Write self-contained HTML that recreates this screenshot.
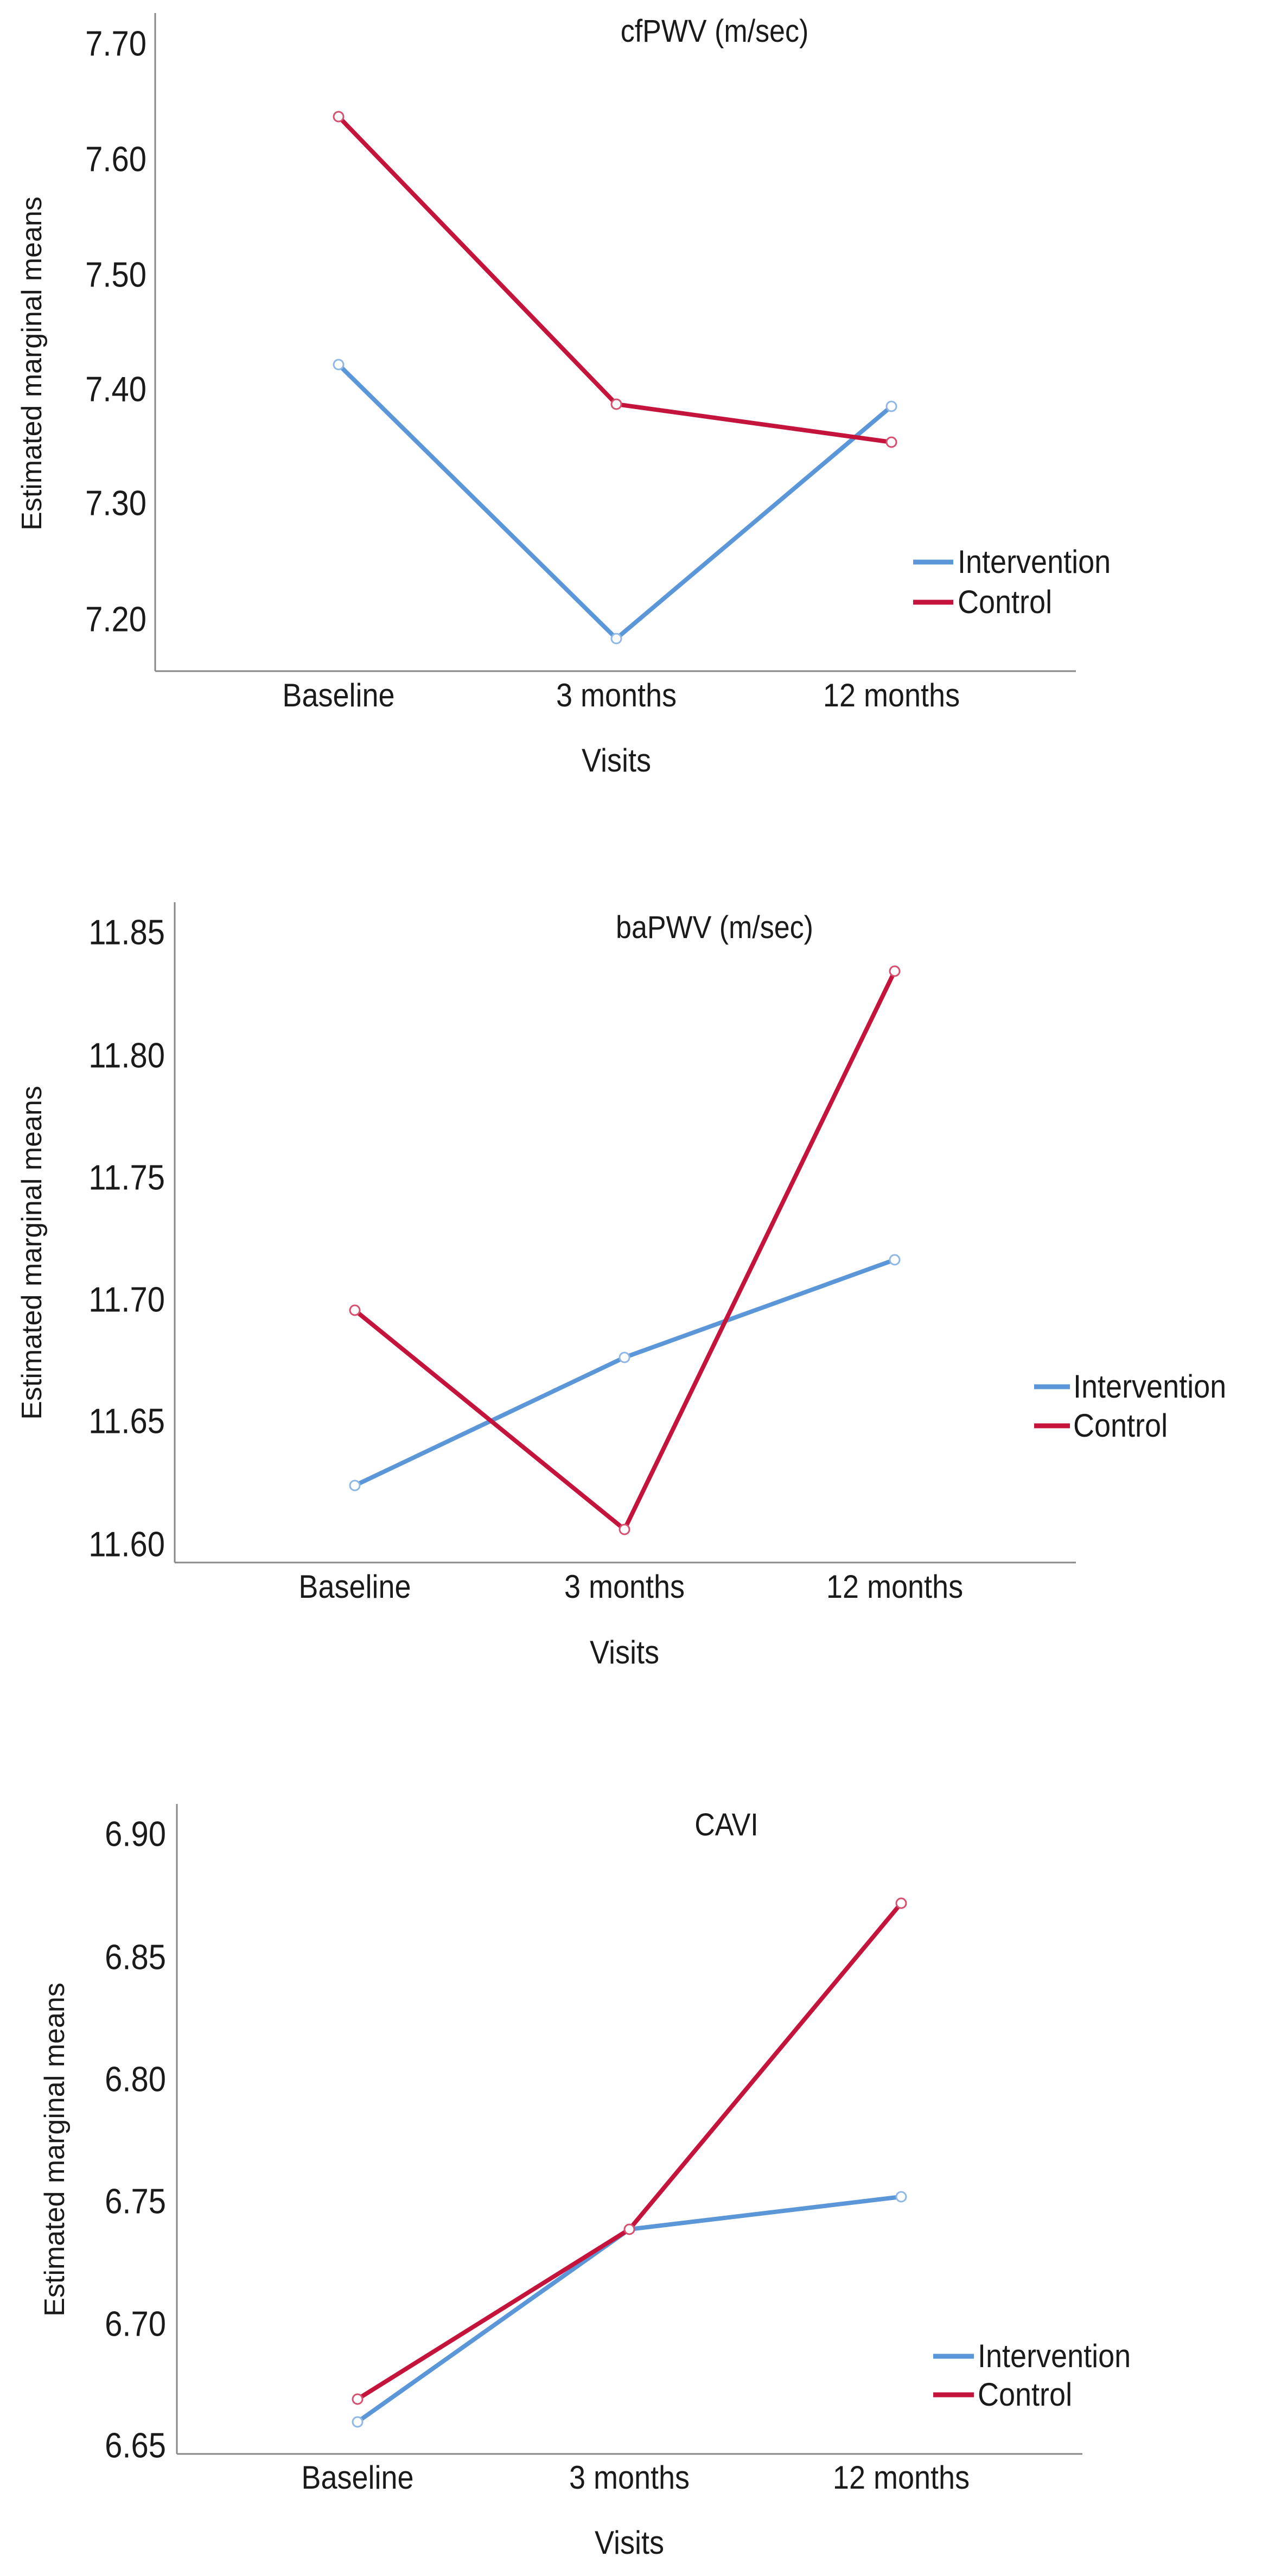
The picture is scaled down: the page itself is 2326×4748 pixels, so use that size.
<!DOCTYPE html>
<html><head><meta charset="utf-8"><style>
html,body{margin:0;padding:0;background:#fff}
svg{display:block}
text{font-family:"Liberation Sans",sans-serif;fill:#1a1a1a}
</style></head><body>
<svg width="2326" height="4748" viewBox="0 0 2326 4748" xmlns="http://www.w3.org/2000/svg">
<defs><style>
.tk{font-size:58px}
.ct{font-size:54px}
.tt{font-size:52px}
.lg{font-size:54px}
.yl{font-size:52px}
</style></defs>

<!-- Chart 1 -->
<g>
<line x1="286" y1="24" x2="286" y2="1237" stroke="#888" stroke-width="3"/>
<line x1="286" y1="1237" x2="1983" y2="1237" stroke="#888" stroke-width="3"/>
<g text-anchor="end" class="tk" dominant-baseline="central">
<text transform="translate(270,81) scale(1,1.12)">7.70</text>
<text transform="translate(270,294) scale(1,1.12)">7.60</text>
<text transform="translate(270,507) scale(1,1.12)">7.50</text>
<text transform="translate(270,718) scale(1,1.12)">7.40</text>
<text transform="translate(270,928) scale(1,1.12)">7.30</text>
<text transform="translate(270,1142) scale(1,1.12)">7.20</text>
</g>
<text class="tt" text-anchor="middle" dominant-baseline="central" transform="translate(1317,57) scale(1,1.12)">cfPWV (m/sec)</text>
<g class="ct" text-anchor="middle" dominant-baseline="central">
<text transform="translate(624,1282) scale(1,1.12)">Baseline</text>
<text transform="translate(1136,1282) scale(1,1.12)">3 months</text>
<text transform="translate(1643,1282) scale(1,1.12)">12 months</text>
<text transform="translate(1136,1402) scale(1,1.12)">Visits</text>
</g>
<text class="yl" text-anchor="middle" dominant-baseline="central" transform="translate(59,670) rotate(-90)">Estimated marginal means</text>
<polyline points="624,672 1136,1177 1643,749" fill="none" stroke="#5b97d8" stroke-width="8"/>
<polyline points="624,215 1136,745 1643,815" fill="none" stroke="#c4143c" stroke-width="8"/>
<g fill="#fff" stroke-width="3">
<circle cx="624" cy="672" r="9" stroke="#8fb7e6"/><circle cx="1136" cy="1177" r="9" stroke="#8fb7e6"/><circle cx="1643" cy="749" r="9" stroke="#8fb7e6"/>
<circle cx="624" cy="215" r="9" stroke="#d6506e"/><circle cx="1136" cy="745" r="9" stroke="#d6506e"/><circle cx="1643" cy="815" r="9" stroke="#d6506e"/>
</g>
<line x1="1683" y1="1036" x2="1757" y2="1036" stroke="#5b97d8" stroke-width="9"/>
<line x1="1683" y1="1110" x2="1757" y2="1110" stroke="#c4143c" stroke-width="9"/>
<text class="lg" dominant-baseline="central" transform="translate(1765,1036) scale(1,1.12)">Intervention</text>
<text class="lg" dominant-baseline="central" transform="translate(1765,1110) scale(1,1.12)">Control</text>
</g>

<!-- Chart 2 -->
<g>
<line x1="322" y1="1663" x2="322" y2="2880" stroke="#888" stroke-width="3"/>
<line x1="322" y1="2880" x2="1983" y2="2880" stroke="#888" stroke-width="3"/>
<g text-anchor="end" class="tk" dominant-baseline="central">
<text transform="translate(304,1719) scale(1,1.12)">11.85</text>
<text transform="translate(304,1946) scale(1,1.12)">11.80</text>
<text transform="translate(304,2171) scale(1,1.12)">11.75</text>
<text transform="translate(304,2396) scale(1,1.12)">11.70</text>
<text transform="translate(304,2620) scale(1,1.12)">11.65</text>
<text transform="translate(304,2847) scale(1,1.12)">11.60</text>
</g>
<text class="tt" text-anchor="middle" dominant-baseline="central" transform="translate(1317,1709) scale(1,1.12)">baPWV (m/sec)</text>
<g class="ct" text-anchor="middle" dominant-baseline="central">
<text transform="translate(654,2925) scale(1,1.12)">Baseline</text>
<text transform="translate(1151,2925) scale(1,1.12)">3 months</text>
<text transform="translate(1649,2925) scale(1,1.12)">12 months</text>
<text transform="translate(1151,3046) scale(1,1.12)">Visits</text>
</g>
<text class="yl" text-anchor="middle" dominant-baseline="central" transform="translate(59,2309) rotate(-90)">Estimated marginal means</text>
<polyline points="654,2738 1151,2502 1649,2322" fill="none" stroke="#5b97d8" stroke-width="8"/>
<polyline points="654,2415 1151,2819 1649,1790" fill="none" stroke="#c4143c" stroke-width="8"/>
<g fill="#fff" stroke-width="3">
<circle cx="654" cy="2738" r="9" stroke="#8fb7e6"/><circle cx="1151" cy="2502" r="9" stroke="#8fb7e6"/><circle cx="1649" cy="2322" r="9" stroke="#8fb7e6"/>
<circle cx="654" cy="2415" r="9" stroke="#d6506e"/><circle cx="1151" cy="2819" r="9" stroke="#d6506e"/><circle cx="1649" cy="1790" r="9" stroke="#d6506e"/>
</g>
<line x1="1906" y1="2556" x2="1972" y2="2556" stroke="#5b97d8" stroke-width="9"/>
<line x1="1906" y1="2628" x2="1972" y2="2628" stroke="#c4143c" stroke-width="9"/>
<text class="lg" dominant-baseline="central" transform="translate(1978,2556) scale(1,1.12)">Intervention</text>
<text class="lg" dominant-baseline="central" transform="translate(1978,2628) scale(1,1.12)">Control</text>
</g>

<!-- Chart 3 -->
<g>
<line x1="326" y1="3325" x2="326" y2="4523" stroke="#888" stroke-width="3"/>
<line x1="326" y1="4523" x2="1995" y2="4523" stroke="#888" stroke-width="3"/>
<g text-anchor="end" class="tk" dominant-baseline="central">
<text transform="translate(306,3381) scale(1,1.12)">6.90</text>
<text transform="translate(306,3608) scale(1,1.12)">6.85</text>
<text transform="translate(306,3833) scale(1,1.12)">6.80</text>
<text transform="translate(306,4058) scale(1,1.12)">6.75</text>
<text transform="translate(306,4284) scale(1,1.12)">6.70</text>
<text transform="translate(306,4508) scale(1,1.12)">6.65</text>
</g>
<text class="tt" text-anchor="middle" dominant-baseline="central" transform="translate(1339,3363) scale(1,1.12)">CAVI</text>
<g class="ct" text-anchor="middle" dominant-baseline="central">
<text transform="translate(659,4567) scale(1,1.12)">Baseline</text>
<text transform="translate(1160,4567) scale(1,1.12)">3 months</text>
<text transform="translate(1661,4567) scale(1,1.12)">12 months</text>
<text transform="translate(1160,4687) scale(1,1.12)">Visits</text>
</g>
<text class="yl" text-anchor="middle" dominant-baseline="central" transform="translate(101,3962) rotate(-90)">Estimated marginal means</text>
<polyline points="659,4464 1160,4109 1661,4049" fill="none" stroke="#5b97d8" stroke-width="8"/>
<polyline points="659,4422 1160,4109 1661,3508" fill="none" stroke="#c4143c" stroke-width="8"/>
<g fill="#fff" stroke-width="3">
<circle cx="659" cy="4464" r="9" stroke="#8fb7e6"/><circle cx="1661" cy="4049" r="9" stroke="#8fb7e6"/>
<circle cx="659" cy="4422" r="9" stroke="#d6506e"/><circle cx="1160" cy="4109" r="9" stroke="#d6506e"/><circle cx="1661" cy="3508" r="9" stroke="#d6506e"/>
</g>
<line x1="1720" y1="4343" x2="1795" y2="4343" stroke="#5b97d8" stroke-width="9"/>
<line x1="1720" y1="4414" x2="1795" y2="4414" stroke="#c4143c" stroke-width="9"/>
<text class="lg" dominant-baseline="central" transform="translate(1802,4343) scale(1,1.12)">Intervention</text>
<text class="lg" dominant-baseline="central" transform="translate(1802,4414) scale(1,1.12)">Control</text>
</g>
</svg>
</body></html>
